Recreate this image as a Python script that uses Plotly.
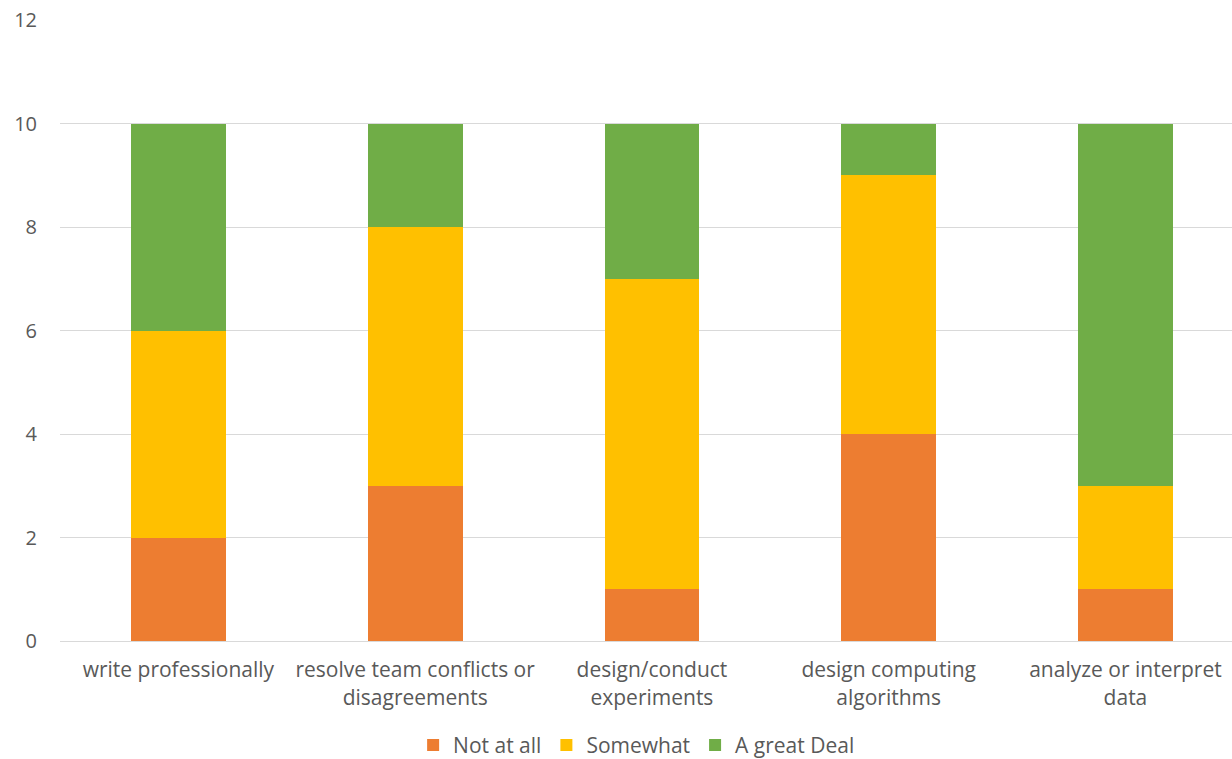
import plotly.graph_objects as go

categories = ["write professionally", "resolve team conflicts or<br>disagreements",
              "design/conduct<br>experiments", "design computing<br>algorithms",
              "analyze or interpret<br>data"]
not_at_all = [2, 3, 1, 4, 1]
somewhat = [4, 5, 6, 5, 2]
great_deal = [4, 2, 3, 1, 7]

series = [("Not at all", not_at_all, "#ED7D31"),
          ("Somewhat", somewhat, "#FFC000"),
          ("A great Deal", great_deal, "#70AD47")]

FONT = "Open Sans, Lato, sans-serif"
fig = go.Figure()
for name, vals, color in series:
    fig.add_trace(go.Bar(x=list(range(len(categories))), y=vals, name=name,
                         marker=dict(color=color, line=dict(width=0)), width=0.4))

fig.update_layout(
    barmode="stack",
    width=1232, height=759,
    margin=dict(l=60, r=0, t=20, b=118, autoexpand=False),
    plot_bgcolor="white", paper_bgcolor="white",
    font=dict(family=FONT, size=20, color="#595959"),
    xaxis=dict(tickmode="array", tickvals=list(range(len(categories))), ticktext=categories,
               range=[-0.5, 4.45], showgrid=False, showline=True, linecolor="#D9D9D9",
               linewidth=1, ticks="", ticklabelstandoff=10, automargin=False,
               tickfont=dict(family=FONT, size=21, color="#595959")),
    yaxis=dict(range=[0, 12], dtick=2, showgrid=True, gridcolor="#D9D9D9", gridwidth=1,
               zeroline=False, ticks="", ticklabelstandoff=22, automargin=False,
               tickfont=dict(family=FONT, size=20, color="#595959")),
    legend=dict(orientation="h", x=0.492, xanchor="center", yref="container", y=0.018,
                yanchor="middle", font=dict(family=FONT, size=21, color="#595959"),
                traceorder="normal", itemwidth=30),
    bargap=0.6,
)
fig.write_html("out.html")
